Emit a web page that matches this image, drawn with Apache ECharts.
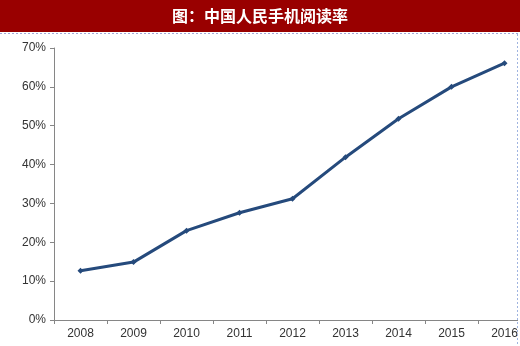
<!DOCTYPE html>
<html>
<head>
<meta charset="utf-8">
<script src="https://cdn.jsdelivr.net/npm/echarts@6/dist/echarts.min.js"></script>
<style>
  html, body { margin: 0; padding: 0; background: #fff; overflow: hidden; }
  #wrap { width: 520px; height: 346px; overflow: hidden; position: relative; }
  /* the drawing surface is a little wider than the view, so the last category is cut at the right edge */
  #chart { width: 531px; height: 346px; }
</style>
</head>
<body>
<div id="wrap"><div id="chart"></div></div>
<script>
// 中国人民手机阅读率 (2008–2016)
var years = ['2008', '2009', '2010', '2011', '2012', '2013', '2014', '2015', '2016'];
var readingRate = [12.7, 14.9, 23.0, 27.6, 31.2, 41.9, 51.8, 60.0, 66.1];
var titleText = '图：中国人民手机阅读率';

var chart = echarts.init(document.getElementById('chart'));
chart.setOption({
  backgroundColor: '#ffffff',
  animation: false,
  graphic: [
    { type: 'rect', shape: { x: 0, y: 0, width: 531, height: 32 }, style: { fill: '#990000' }, z: 0 },
    { type: 'text', x: 260, y: 16,
      style: { text: titleText, fill: '#ffffff', font: 'bold 16px "Noto Sans CJK SC"',
        textAlign: 'center', textVerticalAlign: 'middle' }, z: 1 },
    { type: 'line', shape: { x1: 0, y1: 33.5, x2: 520, y2: 33.5 },
      style: { stroke: '#9fa8d8', lineWidth: 1, lineDash: [2, 2] }, z: 1 },
    { type: 'rect', shape: { x: 518, y: 34, width: 13, height: 312 }, style: { fill: '#ffffff' }, z: 5 },
    { type: 'line', shape: { x1: 517.5, y1: 34, x2: 517.5, y2: 346 },
      style: { stroke: '#9fb4e0', lineWidth: 1, lineDash: [2, 2] }, z: 6 }
  ],
  grid: { left: 54, top: 48, width: 477, height: 272 },
  xAxis: {
    type: 'category',
    data: years,
    boundaryGap: true,
    axisLine: { lineStyle: { color: '#868686', width: 1 } },
    axisTick: { show: true, length: 4, lineStyle: { color: '#868686' } },
    axisLabel: { color: '#333333', fontSize: 12, fontFamily: 'Liberation Sans', margin: 8 },
    splitLine: { show: false }
  },
  yAxis: {
    type: 'value',
    min: 0, max: 70, interval: 10,
    axisLine: { show: true, lineStyle: { color: '#868686', width: 1 } },
    axisTick: { show: true, length: 4, lineStyle: { color: '#868686' } },
    axisLabel: { color: '#333333', fontSize: 12, fontFamily: 'Liberation Sans', margin: 8,
      formatter: function (v) { return v + '%'; } },
    splitLine: { show: false }
  },
  series: [{
    type: 'line',
    data: readingRate,
    symbol: 'diamond',
    symbolSize: 6,
    lineStyle: { color: '#254a7c', width: 3 },
    itemStyle: { color: '#254a7c' }
  }]
});
</script>
</body>
</html>
